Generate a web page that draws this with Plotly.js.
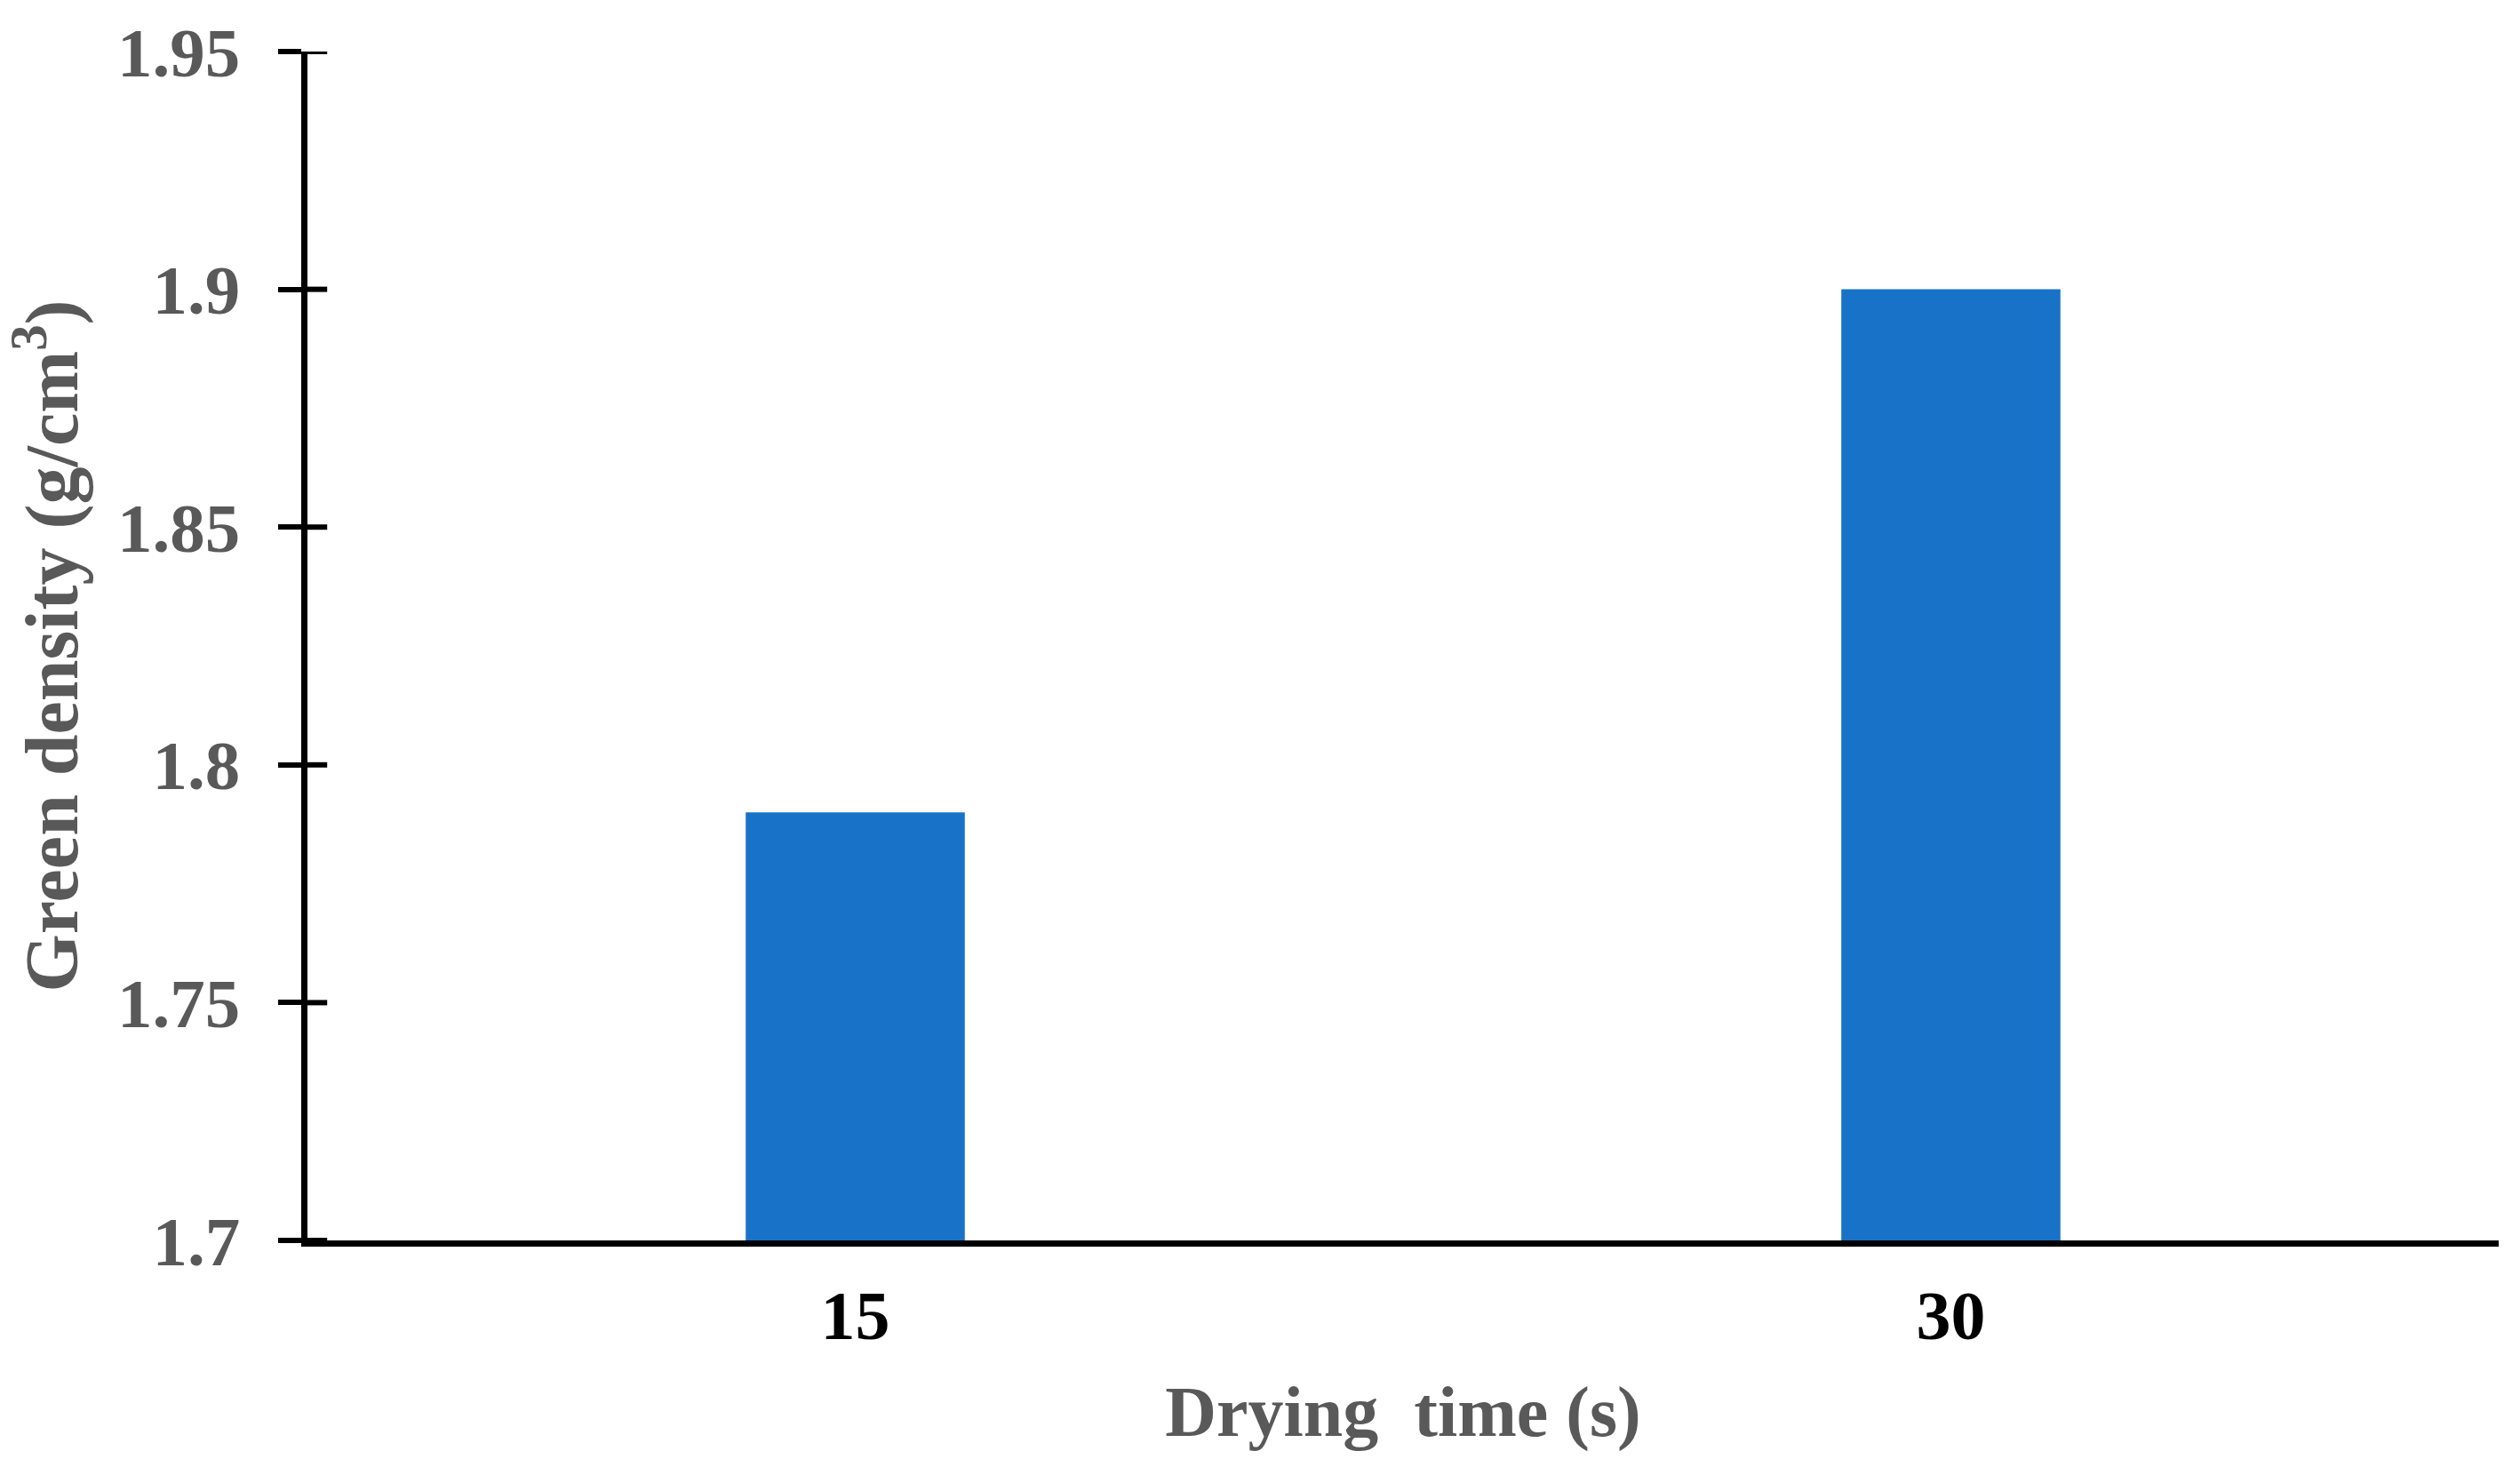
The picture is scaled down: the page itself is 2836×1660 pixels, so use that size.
<!DOCTYPE html>
<html><head><meta charset="utf-8">
<script src="https://cdn.plot.ly/plotly-3.0.1.min.js"></script>
<style>html,body{margin:0;padding:0;background:#fff;}#chart{width:2836px;height:1660px;}</style>
</head><body><div id="chart"></div>
<script>
const categories = ['15', '30'];
const density = [1.79, 1.9];
const yTicks = [1.7, 1.75, 1.8, 1.85, 1.9, 1.95];
const yTickLabels = ['1.7', '1.75', '1.8', '1.85', '1.9', '1.95'];

const FONT = '"Liberation Serif", "Times New Roman", serif';
const barTrace = {
  type: 'bar', x: categories, y: density,
  marker: {color: '#1873C8'}, hoverinfo: 'skip'
};
// inner half of the crossing y ticks, placed at the tick values through the y scale
const innerTicks = yTicks.map(v => ({
  type: 'line', xref: 'x domain', yref: 'y',
  x0: 0, x1: 0.009, y0: v, y1: v,
  line: {color: '#000', width: 6}, layer: 'above'
}));
const layout = {
  width: 2836, height: 1660,
  margin: {l: 346, r: 24, t: 58, b: 264},
  paper_bgcolor: '#fff', plot_bgcolor: '#fff',
  bargap: 0.8, showlegend: false,
  font: {family: FONT},
  shapes: innerTicks,
  xaxis: {
    type: 'category', showline: true, linecolor: '#000', linewidth: 7,
    ticks: '', showgrid: false, zeroline: false,
    tickfont: {family: FONT, size: 78, color: '#000', weight: 'bold'},
    ticklabelstandoff: 10,
    title: {text: 'Drying  time (s)', font: {family: FONT, size: 80, color: '#595959', weight: 'bold'}, standoff: 40},
    automargin: false
  },
  yaxis: {
    range: [1.7, 1.95], tickvals: yTicks, ticktext: yTickLabels,
    showline: true, linecolor: '#000', linewidth: 7,
    ticks: 'outside', ticklen: 26, tickwidth: 6, tickcolor: '#000',
    showgrid: false, zeroline: false,
    tickfont: {family: FONT, size: 79, color: '#595959', weight: 'bold'},
    ticklabelstandoff: 27,
    title: {text: 'Green density (g/cm<sup>3</sup>)', font: {family: FONT, size: 84, color: '#595959', weight: 'bold'}, standoff: 22},
    automargin: false
  }
};
Plotly.newPlot('chart', [barTrace], layout, {displayModeBar: false, staticPlot: true});
</script></body></html>
